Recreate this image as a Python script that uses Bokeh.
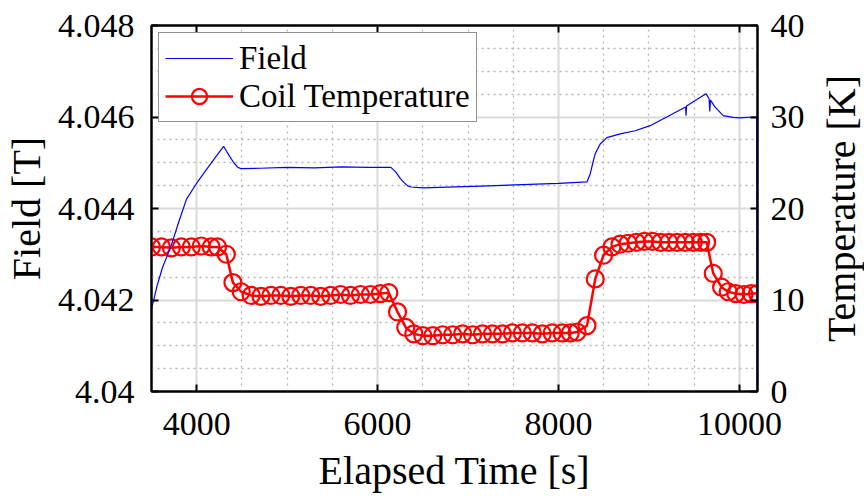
import math
from bokeh.plotting import figure
from bokeh.layouts import row
from bokeh.models import (Range1d, LinearAxis, FixedTicker, CustomJSTickFormatter,
                          Legend, LegendItem, Title)
from bokeh.embed import file_html
from bokeh.resources import INLINE

# ---- data ----
field_time = [3500, 3560, 3620, 3720, 3800, 3886, 3950, 4015, 4125, 4200, 4297, 4330, 4364,
              4410, 4455, 4492, 4700, 5000, 5300, 5600, 5900, 6146, 6200, 6250, 6290, 6330,
              6367, 6500, 7138, 7600, 8000, 8315, 8351, 8380, 8406, 8461, 8535, 8682, 8847,
              9013, 9196, 9405, 9410, 9415, 9630, 9665, 9672, 9680, 9729, 9821, 9931, 10005,
              10150, 10192, 10196]
field_T = [4.0418, 4.0423, 4.0427, 4.0432, 4.0437, 4.0442, 4.0444, 4.0446, 4.0449, 4.0451,
           4.04536, 4.04525, 4.04514, 4.04500, 4.04490, 4.04487, 4.04488, 4.04490, 4.04489,
           4.04491, 4.04490, 4.04490, 4.04480, 4.04466, 4.04457, 4.04450, 4.04447, 4.04445,
           4.04449, 4.04452, 4.04455, 4.04458, 4.04476, 4.04500, 4.04520, 4.04541, 4.04555,
           4.04563, 4.04570, 4.04581, 4.04600, 4.04622, 4.04603, 4.04624, 4.04651, 4.04640,
           4.04612, 4.04637, 4.04622, 4.04603, 4.04599, 4.04598, 4.04600, 4.04600, 4.0390]

temp_time = [3500, 3610, 3720, 3830, 3940, 4050, 4160, 4230, 4327, 4400, 4492, 4602, 4710,
             4820, 4930, 5040, 5150, 5260, 5370, 5480, 5590, 5700, 5810, 5920, 6030, 6124,
             6220, 6311, 6400, 6500, 6610, 6720, 6830, 6940, 7050, 7160, 7270, 7380, 7490,
             7600, 7710, 7820, 7930, 8040, 8130, 8205, 8315, 8406, 8498, 8590, 8680, 8770,
             8860, 8950, 9040, 9130, 9220, 9310, 9400, 9490, 9570, 9638, 9711, 9803, 9876,
             9960, 10050, 10130, 10200]
temp_K = [15.8, 15.8, 15.7, 15.8, 15.8, 15.9, 15.8, 15.8, 15.0, 11.9, 10.9, 10.5, 10.4,
          10.5, 10.5, 10.4, 10.5, 10.5, 10.4, 10.5, 10.6, 10.5, 10.6, 10.6, 10.7, 10.8,
          8.7, 7.0, 6.3, 6.1, 6.1, 6.2, 6.2, 6.3, 6.2, 6.3, 6.3, 6.3, 6.4,
          6.4, 6.4, 6.3, 6.4, 6.4, 6.4, 6.5, 7.2, 12.3, 14.9, 15.8, 16.1, 16.2,
          16.3, 16.4, 16.4, 16.3, 16.3, 16.3, 16.3, 16.3, 16.3, 16.3, 12.9, 11.4, 10.9,
          10.7, 10.6, 10.7, 10.7]

x_ticks = [4000, 6000, 8000, 10000]
x_minor = [3500, 4500, 5000, 5500, 6500, 7000, 7500, 8500, 9000, 9500]
yl_ticks = [4.04, 4.042, 4.044, 4.046, 4.048]
yl_minor = [4.0405, 4.041, 4.0415, 4.0425, 4.043, 4.0435, 4.0445, 4.045, 4.0455,
            4.0465, 4.047, 4.0475]
yr_ticks = [0, 10, 20, 30, 40]

FONT = "Liberation Serif, Times New Roman, Times, DejaVu Serif, serif"

p = figure(width=817, height=496, output_backend="svg", toolbar_location=None,
           x_range=Range1d(3500, 10200), y_range=Range1d(4.04, 4.048),
           min_border_left=150, min_border_right=60, min_border_top=25,
           min_border_bottom=105)
p.extra_y_ranges = {"temp": Range1d(0, 40)}
p.background_fill_color = "white"
p.border_fill_color = "white"
p.outline_line_color = "black"
p.outline_line_width = 2

def style_axis(ax, tick_font="34px"):
    ax.axis_line_color = "black"
    ax.axis_line_width = 2
    ax.major_tick_in = 7
    ax.major_tick_out = 0
    ax.major_tick_line_color = "black"
    ax.major_tick_line_width = 2
    ax.minor_tick_line_color = None
    ax.major_label_text_font = FONT
    ax.major_label_text_font_size = tick_font
    ax.major_label_text_color = "black"
    ax.axis_label_text_font = FONT
    ax.axis_label_text_font_size = "40px"
    ax.axis_label_text_font_style = "normal"
    ax.axis_label_text_color = "black"

xa = p.xaxis[0]
xa.ticker = FixedTicker(ticks=x_ticks, minor_ticks=x_minor)
xa.axis_label = "Elapsed Time [s]"
style_axis(xa)
xa.major_label_standoff = 17
xa.axis_label_standoff = 10

ya = p.yaxis[0]
ya.ticker = FixedTicker(ticks=yl_ticks, minor_ticks=yl_minor)
ya.formatter = CustomJSTickFormatter(code="return tick.toFixed(3).replace(/0+$/, '');")
ya.axis_label = "Field [T]"
style_axis(ya)
ya.major_label_standoff = 13
ya.axis_label_standoff = 6

ra = LinearAxis(y_range_name="temp", ticker=FixedTicker(ticks=yr_ticks))
style_axis(ra)
ra.major_label_standoff = 13
p.add_layout(ra, "right")

ta = LinearAxis(ticker=FixedTicker(ticks=x_ticks))
style_axis(ta)
ta.formatter = CustomJSTickFormatter(code="return '';")
ta.major_label_standoff = 0
p.add_layout(ta, "above")

for g in (p.xgrid[0], p.ygrid[0]):
    g.grid_line_color = "#d9d9d9"
    g.grid_line_width = 2
    g.minor_grid_line_color = "#b5b5b5"
    g.minor_grid_line_width = 1.3
    g.minor_grid_line_dash = "2 4"
p.xgrid[0].ticker = FixedTicker(ticks=x_ticks, minor_ticks=x_minor)
p.ygrid[0].ticker = FixedTicker(ticks=yl_ticks, minor_ticks=yl_minor)

t_line = p.line(temp_time, temp_K, y_range_name="temp", line_color="#ff0000", line_width=2.5)
t_mark = p.scatter(temp_time, temp_K, y_range_name="temp", marker="circle", size=17,
                   fill_color=None, line_color="#ff0000", line_width=2.2)
f_line = p.line(field_time, field_T, line_color="#0000ff", line_width=1.2)

legend = Legend(items=[LegendItem(label="Field", renderers=[f_line]),
                       LegendItem(label="Coil Temperature", renderers=[t_line, t_mark])],
                location="top_left", margin=7, padding=6, spacing=0,
                glyph_width=68, glyph_height=38, label_height=38, label_standoff=6,
                label_text_font=FONT, label_text_font_size="33px",
                label_text_color="black",
                border_line_color="#262626", border_line_width=1.5,
                background_fill_color="white", background_fill_alpha=1)
p.add_layout(legend)

# narrow companion panel carrying the right-axis title, reading bottom-to-top
p2 = figure(width=47, height=496, output_backend="svg", toolbar_location=None,
            x_axis_type=None, y_axis_type=None,
            min_border_left=0, min_border_right=0, min_border_top=25,
            min_border_bottom=105)
p2.outline_line_color = None
p2.background_fill_color = "white"
p2.border_fill_color = "white"
p2.add_layout(Title(text="Temperature [K]", align="center", vertical_align="middle",
                    standoff=0, text_font=FONT, text_font_size="40px",
                    text_font_style="normal", text_color="black"), "left")

layout = row(p, p2, spacing=0)
open("out.html", "w").write(file_html(layout, INLINE))
